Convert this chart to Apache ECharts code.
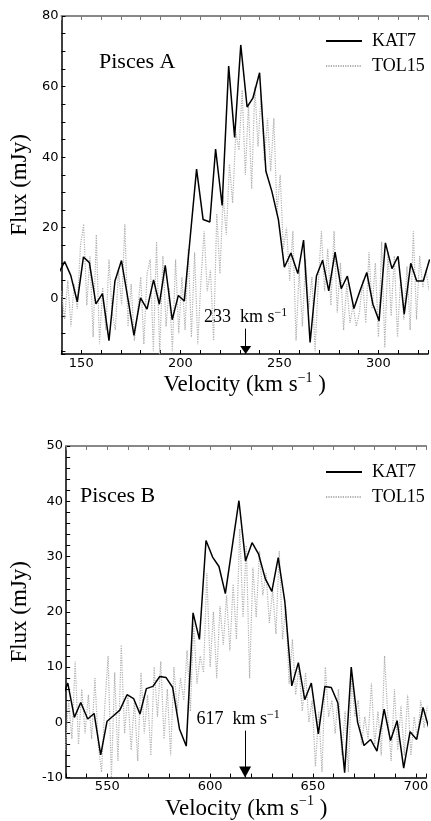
<!DOCTYPE html>
<html><head><meta charset="utf-8">
<script src="https://cdn.jsdelivr.net/npm/echarts@6/dist/echarts.min.js"></script>
<style>html,body{margin:0;padding:0;background:#fff}#c{width:431px;height:821px}</style>
</head><body><div id="c"></div>
<script>
// ---------- Pisces A ----------
const katA_v = [138.4,141.6,144.7,148.0,151.1,154.1,157.4,160.7,164.0,167.0,170.3,173.6,176.6,179.9,183.2,186.5,189.4,192.4,195.9,199.0,202.0,205.1,208.2,211.5,214.9,217.8,221.1,224.4,227.4,230.5,233.7,236.6,240.0,243.2,246.2,249.5,252.5,255.8,259.3,262.2,265.5,268.7,271.8,274.9,278.1,281.2,284.3,287.6,290.9,294.1,297.2,300.3,303.5,306.8,309.9,313.0,316.3,319.3,322.6,325.8];
const katA_f = [6.9,10.4,6.5,-1.0,11.7,10.1,-1.6,1.3,-12.0,4.9,10.7,-0.3,-10.5,0.1,-3.1,5.2,-1.7,9.3,-6.1,0.8,-0.8,18.0,36.6,22.3,21.6,42.3,26.3,65.8,45.6,71.8,54.2,56.7,63.9,36.0,30.3,22.3,8.8,12.8,7.0,16.5,-12.5,6.3,10.8,2.1,13.1,2.7,6.3,-2.9,2.5,7.3,-1.7,-6.4,15.7,8.4,11.9,-4.5,9.9,4.9,4.9,11.0];
const tolA_v = [140.0,141.6,143.2,144.8,146.4,148.0,149.6,151.2,152.8,154.4,156.0,157.6,159.2,160.8,162.4,164.0,165.6,167.2,168.8,170.4,172.0,173.6,175.2,176.8,178.4,180.0,181.6,183.2,184.8,186.4,188.0,189.6,191.2,192.8,194.4,196.0,197.6,199.2,200.8,202.4,204.0,205.6,207.2,208.8,210.4,212.0,213.6,215.2,216.8,218.4,220.0,221.6,223.2,224.8,226.4,228.0,229.6,231.2,232.8,234.4,236.0,237.6,239.2,240.8,242.4,244.0,245.6,247.2,248.8,250.4,252.0,253.6,255.2,256.8,258.4,260.0,261.6,263.2,264.8,266.4,268.0,269.6,271.2,272.8,274.4,276.0,277.6,279.2,280.8,282.4,284.0,285.6,287.2,288.8,290.4,292.0,293.6,295.2,296.8,298.4,300.0,301.6,303.2,304.8,306.4,308.0,309.6,311.2,312.8,314.4,316.0,317.6,319.2,320.8,322.4,324.0,325.6];
const tolA_f = [2,-6,5,-8,4,-3,15,21,-2,12,-11,18,-13,3,-9,11,-4,-9,8,-2,21,-8,4,-12,-4,6,-13,7,11,-15,16,-16,12,-8,3,-15,11,-10,6,-9,14,-11,13,-13,5,19,2,8,-12,24,7,29,18,38,27,47,42,59,35,55,31,60,43,58,39,51,36,51,24,35,14,20,5,19,-12,8,-8,11,-3,6,-15,4,19,2,14,-2,19,-4,10,-9,4,-7,-2,-8,-4,5,-7,13,-3,10,-11,16,-14,13,-5,12,-11,6,-6,9,-9,19,-6,12,3,8,2];
const xTicksA = [150,200,250,300];
const yTicksA = [0,20,40,60,80];
const arrowA = {v: 233, from: -8.6};

// ---------- Pisces B ----------
const katB_v = [527.6,530.8,534.0,537.1,540.5,543.6,546.8,549.9,553.0,556.1,559.6,562.8,565.9,569.0,572.2,575.5,578.6,581.8,585.1,588.4,591.7,594.8,598.0,601.2,604.3,607.4,610.7,614.0,617.2,620.4,623.5,626.8,630.0,633.1,636.3,639.7,642.9,646.0,649.2,652.6,655.8,658.9,662.1,665.4,668.6,671.7,674.8,678.0,681.1,684.6,687.7,690.9,694.1,697.2,700.4,703.5,706.7];
const katB_f = [4.0,7.1,0.9,3.6,0.6,1.6,-5.9,0.2,1.2,2.2,5.0,4.3,1.5,6.1,6.5,8.3,8.1,6.3,-1.2,-4.3,19.8,15.0,32.9,29.9,28.2,23.3,31.7,40.1,29.2,32.5,30.5,26.0,23.7,29.8,21.9,6.6,10.8,4.1,7.1,-2.1,6.5,6.3,3.5,-9.1,10.0,0.0,-4.2,-3.1,-5.2,2.4,-3.3,0.3,-8.3,-1.7,-3.1,2.7,-1.5];
const tolB_v = [529.6,531.2,532.8,534.4,536.0,537.6,539.2,540.8,542.4,544.0,545.6,547.2,548.8,550.4,552.0,553.6,555.2,556.8,558.4,560.0,561.6,563.2,564.8,566.4,568.0,569.6,571.2,572.8,574.4,576.0,577.6,579.2,580.8,582.4,584.0,585.6,587.2,588.8,590.4,592.0,593.6,595.2,596.8,598.4,600.0,601.6,603.2,604.8,606.4,608.0,609.6,611.2,612.8,614.4,616.0,617.6,619.2,620.8,622.4,624.0,625.6,627.2,628.8,630.4,632.0,633.6,635.2,636.8,638.4,640.0,641.6,643.2,644.8,646.4,648.0,649.6,651.2,652.8,654.4,656.0,657.6,659.2,660.8,662.4,664.0,665.6,667.2,668.8,670.4,672.0,673.6,675.2,676.8,678.4,680.0,681.6,683.2,684.8,686.4,688.0,689.6,691.2,692.8,694.4,696.0,697.6,699.2,700.8,702.4,704.0,705.6];
const tolB_f = [-5,4,-3,11,-4,6,-2,5,-3,8,-4,-9,3,12,-10,9,-7,14,-2,5,-5,4,-7,9,-2,5,-6,10,1,11,-3,6,-6,10,2,8,4,13,2,18,7,12,9,27,10,20,8,21,14,23,13,25,15,35,19,32,8,28,19,31,23,27,18,24,16,31,15,21,7,15,5,10,2,9,0,4,-8,2,-9,10,1,4,-2,6,-6,2,-9,8,1,4,-4,1,-3,7,-4,2,-6,12,1,-7,6,-5,3,-6,5,-6,1,-3,4,-1,3];
const xTicksB = [550,600,650,700];
const yTicksB = [-10,0,10,20,30,40,50];
const arrowB = {v: 617, from: -1.5};

const pairs = (v, f) => v.map((x, i) => [x, f[i]]);
const serif = "'Liberation Serif','DejaVu Serif',serif";
const sans = "'DejaVu Sans',sans-serif";

const supRich = {
  n: {fontFamily: serif, fontSize: 23, color: '#000', lineHeight: 28},
  sup: {fontFamily: serif, fontSize: 14, color: '#000', lineHeight: 14, verticalAlign: 'top'}
};
const arrowRich = {
  n: {fontFamily: serif, fontSize: 18, color: '#000', lineHeight: 22},
  sup: {fontFamily: serif, fontSize: 12, color: '#000', lineHeight: 12, verticalAlign: 'top'}
};

function xAxes(grid, min, max, ticks) {
  return [
    {gridIndex: grid, type: 'value', min, max, interval: 10, position: 'bottom',
     axisLine: {onZero: false, lineStyle: {color: '#000', width: 1.5}},
     axisTick: {inside: true, length: 4, lineStyle: {color: '#000', width: 1}},
     axisLabel: {formatter: v => ticks.includes(v) ? String(v) : '', fontFamily: sans, fontSize: 13, color: '#000', margin: 3},
     splitLine: {show: false},
     name: '{n|Velocity (km s}{sup|−1}{n| )}', nameLocation: 'middle', nameGap: 13,
     nameTextStyle: {rich: supRich}},
    {gridIndex: grid, type: 'value', min, max, interval: 10, position: 'top',
     axisLine: {onZero: false, lineStyle: {color: '#888', width: 2}},
     axisTick: {inside: true, length: 4, lineStyle: {color: '#777', width: 1}},
     axisLabel: {show: false}, splitLine: {show: false}}
  ];
}
function yAxis(grid, min, max, step, ticks) {
  return {gridIndex: grid, type: 'value', min, max, minInterval: step, maxInterval: step,
    splitNumber: Math.round((max - min) / step),
    axisLine: {onZero: false, lineStyle: {color: '#000', width: 1.5}},
    axisTick: {inside: true, length: 4, lineStyle: {color: '#000', width: 1}},
    axisLabel: {formatter: v => ticks.includes(v) ? String(v) : '', fontFamily: sans, fontSize: 13, color: '#000', margin: 3, showMinLabel: true, showMaxLabel: true},
    splitLine: {show: false},
    name: 'Flux (mJy)', nameLocation: 'middle', nameGap: 17,
    nameTextStyle: {fontFamily: serif, fontSize: 23, color: '#000'}};
}
function arrowLine(a, ymin, labelDx) {
  return {silent: true, animation: false, symbol: ['none', 'none'],
    lineStyle: {color: '#000', width: 1, type: 'solid'},
    label: {show: true, position: 'start', distance: 0, offset: [labelDx, 0],
      formatter: '{n|' + a.v + '  km s}{sup|−1}', rich: arrowRich},
    data: [[{coord: [a.v, a.from]}, {coord: [a.v, ymin]}]]};
}
function arrowHead(a, ymin, w, h) {
  return {silent: true, animation: false, symbol: 'triangle', symbolRotate: 180, symbolSize: [w, h],
    symbolOffset: [0, -h / 2], itemStyle: {color: '#000'}, label: {show: false},
    data: [{coord: [a.v, ymin]}]};
}
function legend(top) {
  return {data: ['KAT7', 'TOL15'], orient: 'vertical', left: 320, top, itemWidth: 36, itemHeight: 14, itemGap: 7,
    selectedMode: false, itemStyle: {opacity: 0},
    textStyle: {fontFamily: serif, fontSize: 18, color: '#000', padding: [0, 0, 0, 5]}};
}

const yMinA = -15.8;
const chart = echarts.init(document.getElementById('c'), null, {renderer: 'canvas'});
chart.setOption({
  animation: false,
  backgroundColor: '#fff',
  grid: [
    {left: 58, top: 16, width: 372, height: 338},
    {left: 58, top: 446, width: 372, height: 338}
  ],
  title: [
    {text: 'Pisces A', left: 99, top: 51, padding: 0, textStyle: {fontFamily: serif, fontSize: 22, fontWeight: 'normal', color: '#000'}},
    {text: 'Pisces B', left: 80, top: 485, padding: 0, textStyle: {fontFamily: serif, fontSize: 22, fontWeight: 'normal', color: '#000'}}
  ],
  legend: [legend(27), legend(458)],
  xAxis: [...xAxes(0, 140, 325, xTicksA), ...xAxes(1, 530, 705, xTicksB)],
  yAxis: [yAxis(0, yMinA, 80, 5, yTicksA), yAxis(1, -10, 50, 2, yTicksB)],
  series: [
    {name: 'TOL15', type: 'line', xAxisIndex: 0, yAxisIndex: 0, data: pairs(tolA_v, tolA_f), symbol: 'none', showSymbol: false,
     lineStyle: {color: '#b0b0b0', width: 1.2, type: [1.2, 1.2]}, itemStyle: {color: '#b0b0b0'}, z: 2},
    {name: 'KAT7', type: 'line', xAxisIndex: 0, yAxisIndex: 0, data: pairs(katA_v, katA_f), symbol: 'none', showSymbol: false,
     lineStyle: {color: '#000', width: 1.5}, itemStyle: {color: '#000'}, z: 3,
     markLine: arrowLine(arrowA, yMinA, 0), markPoint: arrowHead(arrowA, yMinA, 11, 8)},
    {name: 'TOL15', type: 'line', xAxisIndex: 2, yAxisIndex: 1, data: pairs(tolB_v, tolB_f), symbol: 'none', showSymbol: false,
     lineStyle: {color: '#b0b0b0', width: 1.2, type: [1.2, 1.2]}, itemStyle: {color: '#b0b0b0'}, z: 2},
    {name: 'KAT7', type: 'line', xAxisIndex: 2, yAxisIndex: 1, data: pairs(katB_v, katB_f), symbol: 'none', showSymbol: false,
     lineStyle: {color: '#000', width: 1.5}, itemStyle: {color: '#000'}, z: 3,
     markLine: arrowLine(arrowB, -10, -7), markPoint: arrowHead(arrowB, -10, 12, 11)}
  ]
});
</script></body></html>
